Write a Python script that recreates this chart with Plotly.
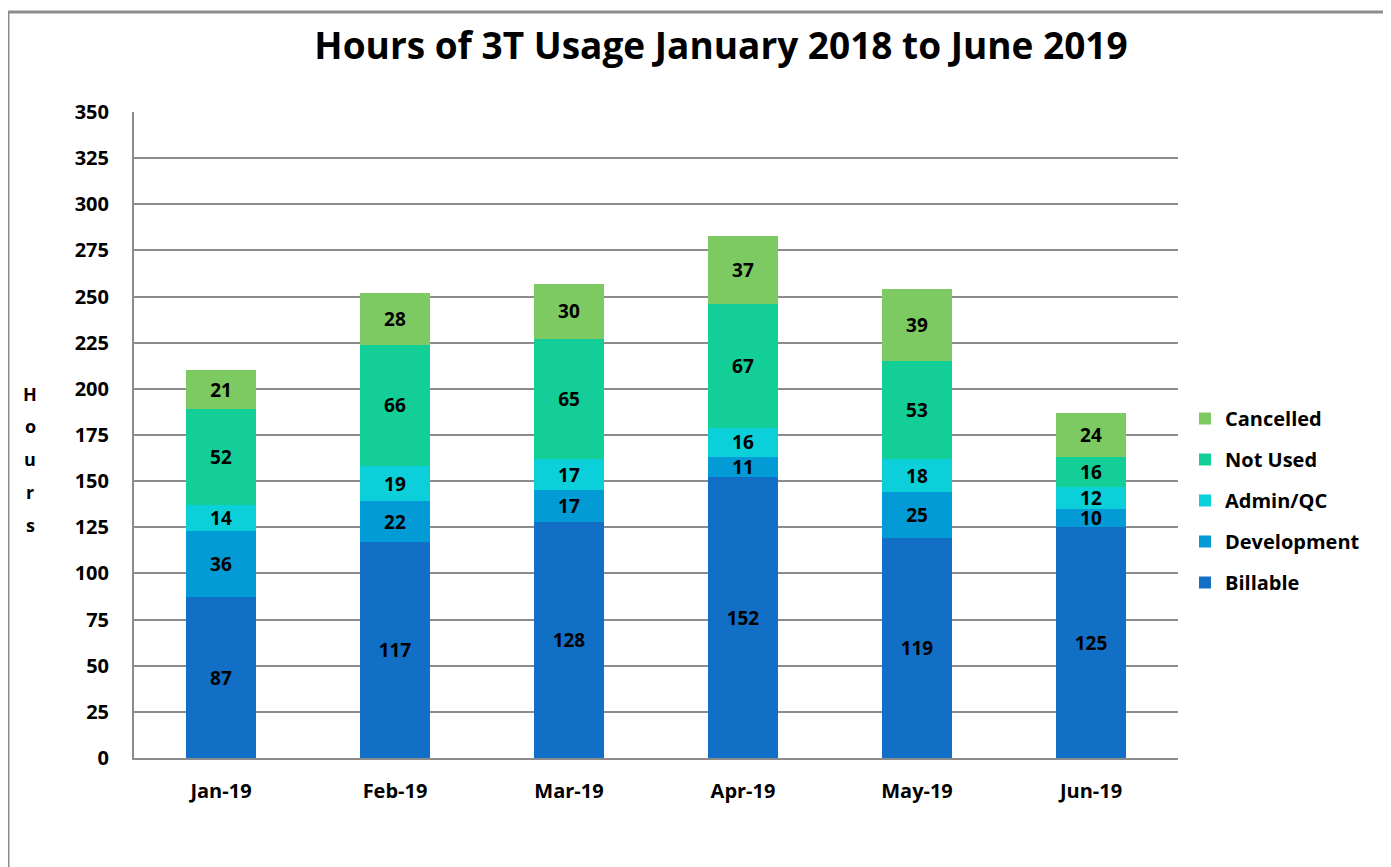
import plotly.graph_objects as go

months = ["Jan-19", "Feb-19", "Mar-19", "Apr-19", "May-19", "Jun-19"]
billable = [87, 117, 128, 152, 119, 125]
development = [36, 22, 17, 11, 25, 10]
admin_qc = [14, 19, 17, 16, 18, 12]
not_used = [52, 66, 65, 67, 53, 16]
cancelled = [21, 28, 30, 37, 39, 24]

series = [
    ("Billable", billable, "#1170C6"),
    ("Development", development, "#039BD6"),
    ("Admin/QC", admin_qc, "#0BCFD9"),
    ("Not Used", not_used, "#13CF97"),
    ("Cancelled", cancelled, "#7DCA62"),
]

FONT = "Open Sans"
W, H = 1391, 867
OFF = 7  # page offset of the figure inside the browser window
L, R, T, B = 133 - OFF, W - (1177 - OFF), 111 - OFF, H - (757 - OFF)
pw, ph = W - L - R, H - T - B

fig = go.Figure()
n = len(series)
for i, (name, vals, col) in enumerate(series):
    fig.add_trace(go.Bar(
        x=months, y=vals, name=name, legendgroup=name, legendrank=n - i,
        marker=dict(color=col, line=dict(width=0)),
        text=[str(v) for v in vals], textposition="inside",
        insidetextanchor="middle", constraintext="none", textangle=0,
        textfont=dict(family=FONT, size=19, color="black", weight="bold"),
    ))

def px_x(x):
    return (x - OFF - L) / pw

def px_y(y):
    return (H - B - (y - OFF)) / ph

annotations = []
for letter, yy in zip("Hours", [393, 425, 458, 491, 524]):
    annotations.append(dict(
        text=letter, x=px_x(29), y=px_y(yy), xref="paper", yref="paper",
        showarrow=False, xanchor="center", yanchor="middle",
        font=dict(family=FONT, size=18, color="black", weight="bold"),
    ))

fig.update_layout(
    width=W, height=H,
    margin=dict(l=L, r=R, t=T, b=B, pad=0),
    barmode="stack", bargap=0.6,
    plot_bgcolor="white", paper_bgcolor="white",
    title=dict(text="Hours of 3T Usage January 2018 to June 2019",
               xref="container", x=(720 - OFF) / W, xanchor="center",
               yref="container", y=1 - (45 - OFF) / H, yanchor="middle",
               font=dict(family=FONT, size=37, color="black", weight="bold")),
    legend=dict(x=px_x(1184), xanchor="left", y=px_y(398), yanchor="top",
                traceorder="grouped", tracegroupgap=12,
                font=dict(family=FONT, size=20, color="black", weight="bold"),
                bgcolor="rgba(0,0,0,0)"),
    yaxis=dict(range=[0, 350], dtick=25, tick0=0, showgrid=True,
               gridcolor="#8C8C8C", gridwidth=2, showline=True,
               linecolor="#8C8C8C", linewidth=2, zeroline=False,
               ticks="", ticklabelstandoff=19,
               tickfont=dict(family=FONT, size=20, color="black", weight="bold")),
    xaxis=dict(showline=True, linecolor="#8C8C8C", linewidth=2, ticks="",
               ticklabelstandoff=14,
               tickfont=dict(family=FONT, size=20, color="black", weight="bold")),
    annotations=annotations,
    shapes=[dict(type="rect", xref="paper", yref="paper",
                 x0=px_x(7), x1=px_x(1386), y0=px_y(900), y1=px_y(11),
                 line=dict(color="#8C8C8C", width=3), layer="above")],
    showlegend=True,
)

fig.write_html("out.html")
